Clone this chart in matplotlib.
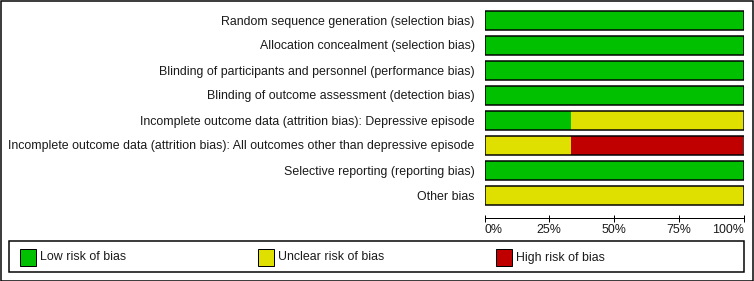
import matplotlib
matplotlib.use("Agg")
import matplotlib.pyplot as plt
from matplotlib.patches import Rectangle

categories = [
    "Random sequence generation (selection bias)",
    "Allocation concealment (selection bias)",
    "Blinding of participants and personnel (performance bias)",
    "Blinding of outcome assessment (detection bias)",
    "Incomplete outcome data (attrition bias): Depressive episode",
    "Incomplete outcome data (attrition bias): All outcomes other than depressive episode",
    "Selective reporting (reporting bias)",
    "Other bias",
]
low = [100, 100, 100, 100, 33.3, 0, 100, 0]
unclear = [0, 0, 0, 0, 66.7, 33.3, 0, 100]
high = [0, 0, 0, 0, 0, 66.7, 0, 0]
series_names = ["Low risk of bias", "Unclear risk of bias", "High risk of bias"]
colors = ["#00C000", "#E0E000", "#C00000"]
tick_values = [0, 25, 50, 75, 100]
tick_labels = ["0%", "25%", "50%", "75%", "100%"]

W, H = 754, 281
PT = 0.72  # points per pixel at dpi 100
fig = plt.figure(figsize=(W / 100, H / 100), dpi=100)
plt.rcParams['font.family'] = ['Liberation Sans', 'DejaVu Sans']
FS = 8.9
TC = "#1a1a1a"

def fx(px):
    return px / W

def fy(py):
    return 1 - py / H

# main axes: x 484..744 px, y 7.5..207.5 px
ax = fig.add_axes([fx(484.5), fy(207.5), (743.5 - 484.5) / W, 200 / H])
n = len(categories)
ys = [i + 0.5 for i in range(n)]
left = [0] * n
for vals, col in zip([low, unclear, high], colors):
    ax.barh(ys, vals, left=left, height=0.76, color=col, edgecolor="none", linewidth=0)
    left = [l + v for l, v in zip(left, vals)]
ax.barh(ys, [100] * n, left=0, height=0.76, color="none", edgecolor="black", linewidth=1.5 * PT)

ax.set_xlim(0, 100)
ax.set_ylim(n, 0)
for s in ["top", "right", "left"]:
    ax.spines[s].set_visible(False)
ax.spines["bottom"].set_position(("outward", 10.5 * PT))
ax.spines["bottom"].set_linewidth(1.0 * PT)
ax.set_xticks(tick_values)
ax.set_xticklabels(tick_labels, fontsize=FS, color=TC)
for lbl, ha in zip(ax.get_xticklabels(), ["left", "center", "center", "center", "right"]):
    lbl.set_ha(ha)
ax.tick_params(axis="x", direction="inout", length=7 * PT, width=1.0 * PT, pad=1.5)
ax.set_yticks(ys)
ax.set_yticklabels(categories, fontsize=FS, color=TC)
ax.tick_params(axis="y", length=0, pad=10 * PT)
ax.patch.set_visible(False)

# legend box
fig.patches.append(Rectangle((fx(8.5), fy(272)), (744 - 8.5) / W, 31 / H,
                             transform=fig.transFigure, fill=False, edgecolor="black", linewidth=1.5 * PT))
sw_x = [20, 258, 496]
for x0, name, col in zip(sw_x, series_names, colors):
    fig.patches.append(Rectangle((fx(x0), fy(265.5)), 16 / W, 17 / H, transform=fig.transFigure,
                                 facecolor=col, edgecolor="black", linewidth=1.0 * PT))
    fig.text(fx(x0 + 20), fy(260.5), name, fontsize=FS, color=TC, va="baseline", ha="left")

# outer border
fig.patches.append(Rectangle((0.5 / W, 0.5 / H), (W - 1.5) / W, (H - 1.5) / H, transform=fig.transFigure,
                             fill=False, edgecolor="black", linewidth=1.5 * PT))

fig.savefig("out.png", dpi=100, facecolor="white")
